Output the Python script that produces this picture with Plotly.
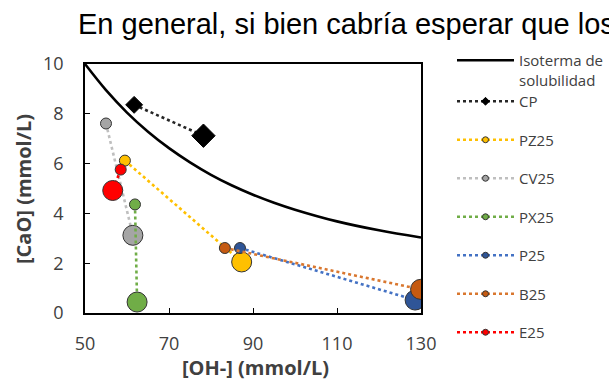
import plotly.graph_objects as go

# Solubility isotherm of Ca(OH)2, read point by point
iso_oh = [50, 55, 60, 65, 70, 75, 80, 85, 90, 95, 100, 110, 120, 130]
iso_cao = [10.0, 8.95, 8.05, 7.28, 6.62, 6.05, 5.55, 5.12, 4.75, 4.43, 4.15, 3.68, 3.32, 3.03]

# Each series: initial state -> final state
series_names = ["CP", "PZ25", "CV25", "PX25", "P25", "B25", "E25"]
oh_values = [
    [61.7, 78.2],
    [59.5, 87.3],
    [55.0, 61.4],
    [61.9, 62.4],
    [86.9, 128.6],
    [83.3, 129.9],
    [58.5, 56.6],
]
cao_values = [
    [8.36, 7.12],
    [6.12, 2.05],
    [7.61, 3.12],
    [4.36, 0.44],
    [2.61, 0.52],
    [2.61, 0.95],
    [5.76, 4.92],
]

x_ticks = [50, 70, 90, 110, 130]
y_ticks = [0, 2, 4, 6, 8, 10]

line_colors = ["#262626", "#FFC000", "#BFBFBF", "#70AD47", "#4472C4", "#D9772F", "#FF0000"]
marker_colors = ["#000000", "#FFC000", "#A5A5A5", "#70AD47", "#2F5597", "#C55A11", "#FF0000"]
symbols = ["diamond", "circle", "circle", "circle", "circle", "circle", "circle"]
marker_sizes = [[13, 18], [11, 20], [11, 20], [11, 20], [11, 20], [11, 20], [11, 20]]

LABEL_FONT = "Open Sans"
GREY = "#404040"
W, H = 609, 380

fig = go.Figure()

fig.add_trace(go.Scatter(
    x=iso_oh, y=iso_cao, mode="lines",
    line=dict(color="black", width=2.6, shape="spline", smoothing=1.0),
    name="Isoterma de<br>solubilidad", legend="legend2", showlegend=True,
    hoverinfo="skip",
))

for i, name in enumerate(series_names):
    outline = "#000000" if symbols[i] == "diamond" else "#333333"
    fig.add_trace(go.Scatter(
        x=oh_values[i], y=cao_values[i], mode="lines+markers",
        line=dict(color=line_colors[i], width=2.6, dash="dot"),
        marker=dict(symbol=symbols[i], size=marker_sizes[i], color=marker_colors[i],
                    line=dict(color=outline, width=1), opacity=1),
        name=name, legendgroup=name, showlegend=False,
    ))
    # compact legend entry for the series
    fig.add_trace(go.Scatter(
        x=[None], y=[None], mode="lines+markers",
        line=dict(color=line_colors[i], width=2.6, dash="dot"),
        marker=dict(symbol=symbols[i], size=6, color=marker_colors[i],
                    line=dict(color=outline, width=1)),
        name=name, legendgroup=name, showlegend=True,
    ))

PLOT_L, PLOT_R, PLOT_T, PLOT_B = 85, 421, 64, 313


def px_x(p):
    return (p - PLOT_L) / (PLOT_R - PLOT_L)


def px_y(p):
    return (PLOT_B - p) / (PLOT_B - PLOT_T)


axis_common = dict(
    showline=True, linecolor="black", linewidth=1.5, mirror=True,
    ticks="inside", ticklen=5, tickwidth=1.3, tickcolor="black",
    showgrid=False, zeroline=False,
    tickfont=dict(family=LABEL_FONT, size=18, color=GREY),
)

legend_common = dict(
    xref="container", yref="container", x=452 / W, xanchor="left", yanchor="top",
    font=dict(family=LABEL_FONT, size=15, color=GREY),
    itemwidth=57, bgcolor="rgba(0,0,0,0)",
)

fig.update_layout(
    width=W, height=H,
    margin=dict(l=PLOT_L, r=W - PLOT_R, t=PLOT_T, b=H - PLOT_B, pad=0),
    paper_bgcolor="white", plot_bgcolor="white",
    xaxis=dict(range=[50, 130], tickvals=x_ticks, ticklabelstandoff=14, **axis_common),
    yaxis=dict(range=[0, 10], tickvals=y_ticks, ticklabelstandoff=16, **axis_common),
    legend=dict(y=1 - 85 / H, tracegroupgap=16, traceorder="grouped",
                maxheight=360, **legend_common),
    legend2=dict(y=1 - 44 / H, valign="top", **legend_common),
    showlegend=True,
    annotations=[
        dict(text="En general, si bien cabría esperar que los",
             xref="paper", yref="paper", x=px_x(76), y=px_y(24),
             xanchor="left", yanchor="middle", showarrow=False,
             font=dict(family="Liberation Sans", size=29, color="black")),
        dict(text="<b>[OH-] (mmol/L)</b>",
             xref="paper", yref="paper", x=px_x(255), y=px_y(367),
             xanchor="center", yanchor="middle", showarrow=False,
             font=dict(family=LABEL_FONT, size=20, color=GREY)),
        dict(text="<b>[CaO] (mmol/L)</b>",
             xref="paper", yref="paper", x=px_x(23), y=px_y(189),
             xanchor="center", yanchor="middle", showarrow=False, textangle=-90,
             font=dict(family=LABEL_FONT, size=20, color=GREY)),
    ],
)

fig.write_html("out.html")
